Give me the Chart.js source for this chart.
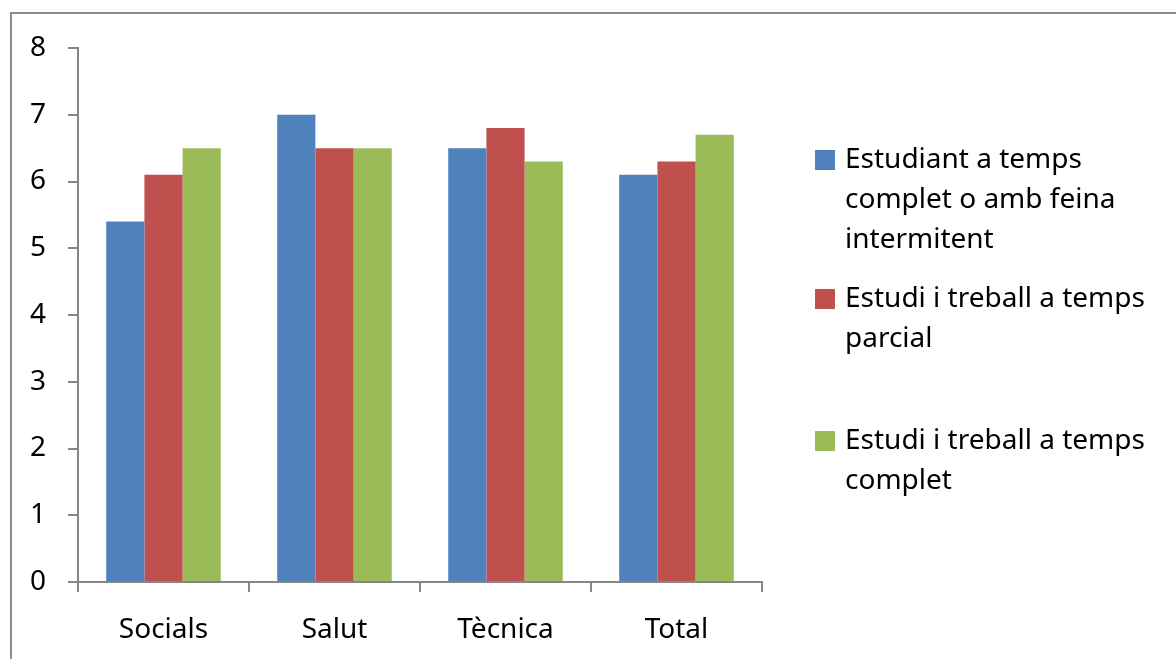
<!DOCTYPE html>
<html>
<head>
<meta charset="utf-8">
<script src="https://cdn.jsdelivr.net/npm/chart.js@4"></script>
<style>
	body { margin: 0; background: #fff; }
	#wrap { width: 1176px; height: 659px; }
</style>
</head>
<body>
<div id="wrap"><canvas id="chart_notes" width="1176" height="659"></canvas></div>
<script>
var categories = ['Socials', 'Salut', 'Tècnica', 'Total'];

var seriesNames = [
	['Estudiant a temps', 'complet o amb feina', 'intermitent'],
	['Estudi i treball a temps', 'parcial'],
	['Estudi i treball a temps', 'complet']
];

var fullTime = [5.4, 7.0, 6.5, 6.1];
var partTime = [6.1, 6.5, 6.8, 6.3];
var fullWork = [6.5, 6.5, 6.3, 6.7];

var yTicks = [0, 1, 2, 3, 4, 5, 6, 7, 8];

var fontName = '"Noto Sans", "Open Sans", sans-serif';
var axisGray = '#868686';

// frame round the chart (only left and top edges are visible)
var framePlugin = {
	id: 'frame',
	beforeDraw: function(chart) {
		var ctx = chart.ctx;
		ctx.save();
		ctx.strokeStyle = '#8c8c8c';
		ctx.lineWidth = 2;
		ctx.beginPath();
		ctx.moveTo(11, 700);
		ctx.lineTo(11, 13);
		ctx.lineTo(1200, 13);
		ctx.stroke();
		ctx.restore();
	}
};

// legend at the right, with wrapped labels
var sideLegend = {
	id: 'sideLegend',
	afterDraw: function(chart) {
		var ctx = chart.ctx;
		var x = chart.chartArea.right + 53;
		var tops = [150, 289, 431];
		var lineH = 40;
		ctx.save();
		ctx.font = '28px ' + fontName;
		ctx.textBaseline = 'middle';
		ctx.fillStyle = '#000';
		chart.data.datasets.forEach(function(ds, i) {
			var y = tops[i];
			ctx.fillStyle = ds.backgroundColor;
			ctx.fillRect(x, y, 20, 20);
			ctx.fillStyle = '#000';
			ds.label.forEach(function(line, j) {
				ctx.fillText(line, x + 30, y + 10 + j * lineH);
			});
		});
		ctx.restore();
	}
};

var chart_notes = new Chart(
	document.getElementById('chart_notes'),
	{
		type: 'bar',
		data: {
			labels: categories,
			datasets: [
				{
					label: seriesNames[0],
					backgroundColor: '#4F81BD',
					data: fullTime,
				},
				{
					label: seriesNames[1],
					backgroundColor: '#C0504D',
					data: partTime,
				},
				{
					label: seriesNames[2],
					backgroundColor: '#9BBB59',
					data: fullWork,
				}
			]
		},
		options: {
			responsive: false,
			animation: false,
			layout: {
				padding: { left: 0, right: 414, top: 48, bottom: 0 }
			},
			datasets: {
				bar: {
					categoryPercentage: 0.67,
					barPercentage: 1.0
				}
			},
			plugins: {
				legend: { display: false },
				tooltip: { enabled: false }
			},
			scales: {
				x: {
					grid: {
						display: true,
						drawOnChartArea: false,
						drawTicks: true,
						tickLength: 10,
						color: axisGray,
						lineWidth: 2
					},
					border: { display: true, color: axisGray, width: 2 },
					ticks: {
						color: '#000',
						font: { family: fontName, size: 28 },
						padding: 21
					},
					afterFit: function(scale) { scale.height = 77; }
				},
				y: {
					min: 0,
					max: 8,
					afterBuildTicks: function(scale) {
						scale.ticks = yTicks.map(function(v) { return { value: v }; });
					},
					grid: {
						display: true,
						drawOnChartArea: false,
						drawTicks: true,
						tickLength: 10,
						color: axisGray,
						lineWidth: 2
					},
					border: { display: true, color: axisGray, width: 2 },
					ticks: {
						color: '#000',
						font: { family: fontName, size: 28 },
						padding: 22
					},
					afterFit: function(scale) { scale.width = 78; }
				}
			}
		},
		plugins: [framePlugin, sideLegend]
	}
);
</script>
</body>
</html>
